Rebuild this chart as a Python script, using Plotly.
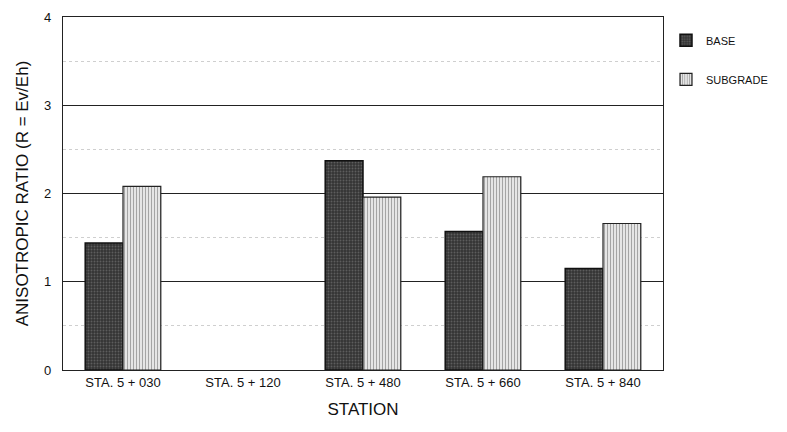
import plotly.graph_objects as go

stations = ["STA. 5 + 030", "STA. 5 + 120", "STA. 5 + 480", "STA. 5 + 660", "STA. 5 + 840"]
base = [1.44, None, 2.37, 1.57, 1.15]
subgrade = [2.08, None, 1.96, 2.19, 1.66]
y_ticks = [0, 1, 2, 3, 4]

FONT = "Liberation Sans, Arial, sans-serif"

fig = go.Figure()
fig.add_trace(go.Bar(
    x=stations, y=base, name="BASE", legendgroup="base",
    marker=dict(color="#353535", line=dict(color="#111", width=1.5),
                pattern=dict(shape=".", fgcolor="#858585", size=3, solidity=0.3)),
))
fig.add_trace(go.Bar(
    x=stations, y=subgrade, name="SUBGRADE", legendgroup="sub",
    marker=dict(color="#e8e8e8", line=dict(color="#222", width=1.2),
                pattern=dict(shape="|", fgcolor="#555", bgcolor="#f2f2f2", size=3, solidity=0.45)),
))

# page body has an 8px default margin; size the figure so the plot lands where the reference has it
fig.update_layout(
    width=779, height=424,
    margin=dict(l=55, r=124, t=9, b=62),
    paper_bgcolor="white", plot_bgcolor="white",
    barmode="group", bargap=0.37, bargroupgap=0,
    font=dict(family=FONT, color="#111"),
    showlegend=True,
    legend=dict(x=1.005, y=0.975, xanchor="left", yanchor="top",
                font=dict(size=11, family=FONT, color="#111"),
                tracegroupgap=20, itemwidth=30, bgcolor="rgba(0,0,0,0)"),
)
fig.update_xaxes(
    automargin=False,
    showline=True, linecolor="#222", linewidth=1.2, mirror=True,
    tickfont=dict(size=13, family=FONT), ticks="",
    title=dict(text="STATION", font=dict(size=17, family=FONT), standoff=14),
)
fig.update_yaxes(
    automargin=False,
    range=[0, 4], tickvals=y_ticks,
    showline=True, linecolor="#222", linewidth=1.2, mirror=True,
    showgrid=True, gridcolor="#222", gridwidth=1.2,
    zeroline=False, ticks="", ticklabelstandoff=8,
    ticklabeloverflow="allow",
    tickfont=dict(size=13, family=FONT),
    minor=dict(dtick=0.5, showgrid=True, gridcolor="#cfcfcf", griddash="dot", gridwidth=1),
    title=dict(text="ANISOTROPIC RATIO (R = Ev/Eh)", font=dict(size=17, family=FONT), standoff=11),
)

fig.write_html("out.html")
